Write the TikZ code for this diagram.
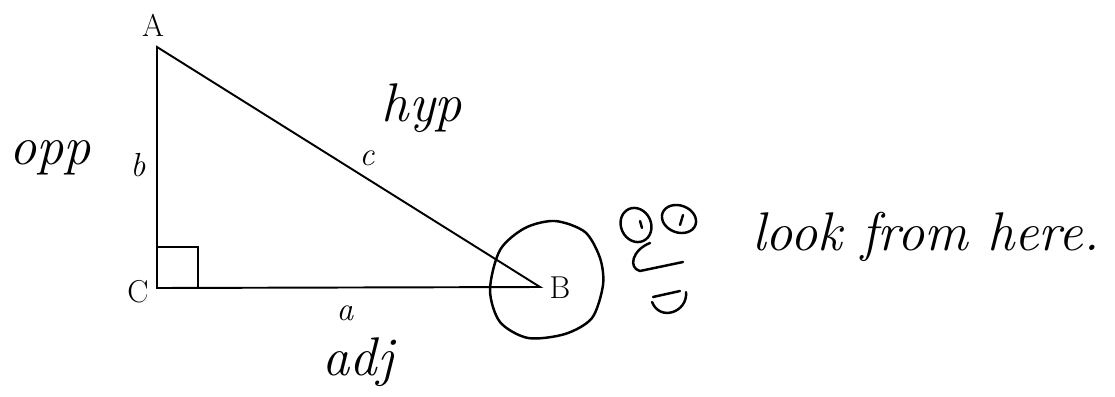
\documentclass[tikz,border=0pt]{standalone}
\usetikzlibrary{positioning}
\usetikzlibrary{calc}

\begin{document}
\begin{tikzpicture}[x=0.02cm, y=-0.02cm]

\tikzset{
  vertexlab/.style={font=\fontsize{18}{21}\selectfont},
  sidelab/.style={font=\fontsize{19}{22}\selectfont\itshape},
  hand/.style={font=\fontsize{31}{35}\selectfont\itshape},
  pen/.style={line width=1.4pt, line cap=round, line join=round}
}

\useasboundingbox (0,0) rectangle (1115,396);

%---------------------------------------
% Vertices
%---------------------------------------
\coordinate (A) at (157,47);
\coordinate (C) at (157,288);
\coordinate (B) at (540,287);

%---------------------------------------
% Triangle and right angle
%---------------------------------------
\draw[line width=1.1pt] (A) -- (B) -- (C) -- cycle;
\draw[line width=0.8pt] ($(C)+(0,-41)$) -- ++(41,0) -- ++(0,41);

% Vertex labels
\node[vertexlab] (lA) at (153,25) {A};
\node[vertexlab] (lC) at (138,292) {C};
\node[vertexlab] (lB) at (560,288) {B};

% Side labels
\node[sidelab] (sb) at (138,165) {b};
\node[sidelab] (sc) at (367,158) {c};
\node[sidelab] (sa) at (345,313) {a};

%---------------------------------------
% Handwritten notes
%---------------------------------------
\node[hand] (opp) at (50,158) {opp};
\node[hand] (hyp) at (422,108) {hyp};
\node[hand] (adj) at (358,362) {adj};
\node[hand, anchor=west] (look) at (746,237) {look from here.};

% Circle round B
\draw[pen] plot[smooth cycle] coordinates {
  (490,290) (500,250) (525,228) (555,221) (585,232) (600,258)
  (603,285) (592,318) (565,334) (528,338) (500,322)};

% Face
\draw[pen, rotate around={25:(636,225)}] (636,225) ellipse [x radius=0.3cm, y radius=0.35cm];
\draw[pen, rotate around={-20:(679,219)}] (679,219) ellipse [x radius=0.35cm, y radius=0.27cm];
\draw[pen] (640,221) -- (642,228);
\draw[pen] (683,215) -- (680,225);
\draw[pen] (650,243) .. controls (632,250) and (628,268) .. (640,271) -- (683,262);
\draw[pen] (653,297) -- (680,291);
\draw[pen] (686,292) .. controls (688,312) and (660,322) .. (652,302);

\end{tikzpicture}
\end{document}
